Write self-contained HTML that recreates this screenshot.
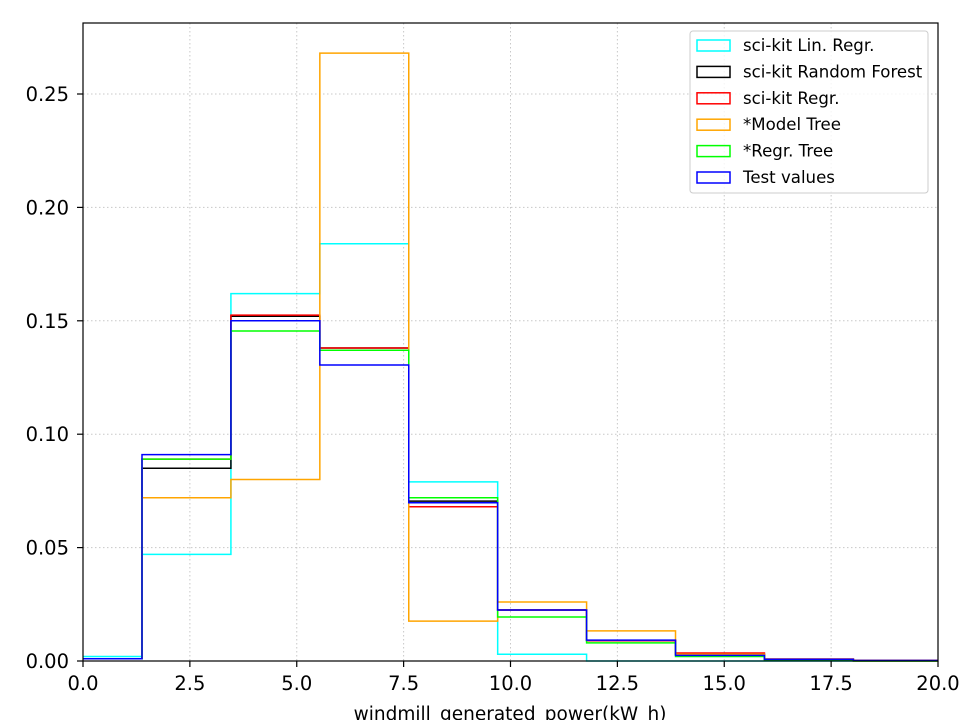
<!DOCTYPE html>
<html><head><meta charset="utf-8"><style>
body{margin:0;background:#fff;font-family:"DejaVu Sans","Liberation Sans",sans-serif}
svg text{font-family:"DejaVu Sans","Liberation Sans",sans-serif}
</style></head><body>
<svg id="chart" width="960" height="720" viewBox="0 0 960 720">
<defs><clipPath id="plotclip"><rect x="83" y="23" width="855" height="639"/></clipPath></defs>
<rect x="0" y="0" width="960" height="720" fill="#fff"/>
<g id="grid"></g>
<g id="series" clip-path="url(#plotclip)"></g>
<rect x="83" y="23" width="855" height="638" fill="none" stroke="#000" stroke-width="1.2"/>
<g id="ticks"></g>
<text x="510" y="720" text-anchor="middle" font-size="18.5">windmill_generated_power(kW_h)</text>
<g id="legend"></g>
</svg>
<script>
const binStart = -0.7;
const binWidth = 2.08;
const seriesNames = ["sci-kit Lin. Regr.","sci-kit Random Forest","sci-kit Regr.","*Model Tree","*Regr. Tree","Test values"];
const seriesColors = ["#00ffff","#000000","#ff0000","#ffa500","#00ff00","#0000ff"];
const linRegr = [0.002,0.047,0.162,0.184,0.079,0.003,0,0,0,0];
const randomForest = [0.001,0.085,0.152,0.138,0.0705,0.0225,0.009,0.003,0.0008,0.0002];
const sciRegr = [0.001,0.089,0.1525,0.138,0.068,0.0225,0.009,0.0035,0.0008,0.0002];
const modelTree = [0.001,0.072,0.080,0.268,0.0176,0.026,0.0133,0.003,0.0005,0];
const regrTree = [0.001,0.089,0.1455,0.137,0.072,0.0194,0.008,0.002,0.0005,0];
const testValues = [0.001,0.091,0.150,0.1305,0.0698,0.0225,0.0092,0.0025,0.0007,0.0002];
const allSeries = [linRegr,randomForest,sciRegr,modelTree,regrTree,testValues];
const xTicks = [0,2.5,5,7.5,10,12.5,15,17.5,20];
const yTicks = [0,0.05,0.10,0.15,0.20,0.25];

const NS="http://www.w3.org/2000/svg";
const X=v=>83+(v/20)*855;
const Y=v=>661-v*2268;
function mk(tag,attrs,parent){const e=document.createElementNS(NS,tag);for(const k in attrs)e.setAttribute(k,attrs[k]);parent.appendChild(e);return e;}
const grid=document.getElementById('grid'),ticks=document.getElementById('ticks'),ser=document.getElementById('series'),leg=document.getElementById('legend');
xTicks.forEach(t=>{
  const l=mk('line',{x1:X(t),x2:X(t),y1:23,y2:661,stroke:'#c8c8c8','stroke-dasharray':'1.5,2.5','stroke-width':1},grid);
  
  
  mk('line',{x1:X(t),x2:X(t),y1:661,y2:667,stroke:'#000','stroke-width':1.2},ticks);
  const tx=mk('text',{x:X(t),y:690,'text-anchor':'middle','font-size':19.5},ticks);
  tx.textContent=t.toFixed(1);
  
  
});
yTicks.forEach(t=>{
  const l=mk('line',{x1:83,x2:938,y1:Y(t),y2:Y(t),stroke:'#c8c8c8','stroke-dasharray':'1.5,2.5','stroke-width':1},grid);
  
  
  mk('line',{x1:77,x2:83,y1:Y(t),y2:Y(t),stroke:'#000','stroke-width':1.2},ticks);
  const tx=mk('text',{x:69,y:Y(t)+7,'text-anchor':'end','font-size':19.5},ticks);
  tx.textContent=t.toFixed(2);
  
  
});
allSeries.forEach((vals,i)=>{
  let d='M'+X(binStart)+','+Y(0);
  vals.forEach((v,k)=>{const x0=X(binStart+k*binWidth),x1=X(binStart+(k+1)*binWidth);d+=' L'+x0+','+Y(v)+' L'+x1+','+Y(v);});
  d+=' L'+X(binStart+vals.length*binWidth)+','+Y(0);
  const p=mk('path',{d:d,fill:'none',stroke:seriesColors[i],'stroke-width':1.5},ser);
  
  
});
const box=mk('rect',{x:690,y:31,width:238,height:162,rx:3,fill:'#fff','fill-opacity':0.8,stroke:'#ccc'},leg);


seriesNames.forEach((n,i)=>{
  const y=45+i*26.4;
  const r=mk('rect',{x:697,y:y-5,width:33,height:11,fill:'none',stroke:seriesColors[i],'stroke-width':1.5},leg);
  
  
  const t=mk('text',{x:743,y:y+6,'font-size':16.6},leg);
  t.textContent=n;
  
  
});
</script>
</body></html>
